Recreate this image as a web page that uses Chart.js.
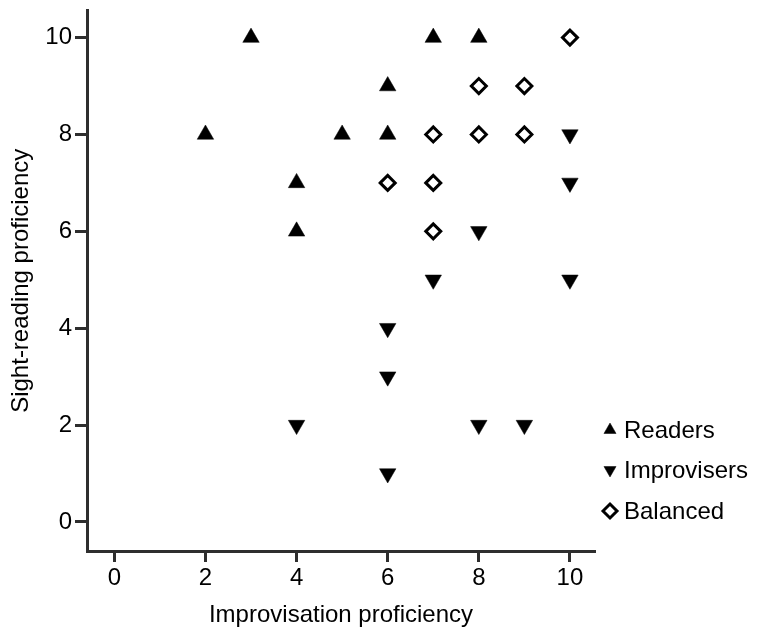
<!DOCTYPE html>
<html>
<head>
<meta charset="utf-8">
<script src="https://cdn.jsdelivr.net/npm/chart.js@4/dist/chart.umd.min.js"></script>
<style>
  html, body { margin: 0; padding: 0; background: #fff; }
  #wrap { width: 760px; height: 640px; }
</style>
</head>
<body>
<div id="wrap"><canvas id="c" width="760" height="640"></canvas></div>
<script>
// ---- Data ----
const seriesNames = ["Readers", "Improvisers", "Balanced"];
const readersX = [2, 3, 4, 4, 5, 6, 6, 7, 8];
const readersY = [8, 10, 7, 6, 8, 9, 8, 10, 10];
const improvisersX = [4, 6, 6, 6, 7, 8, 8, 9, 10, 10, 10];
const improvisersY = [2, 4, 3, 1, 5, 6, 2, 2, 8, 7, 5];
const balancedX = [6, 7, 7, 7, 8, 8, 9, 9, 10];
const balancedY = [7, 8, 7, 6, 9, 8, 9, 8, 10];
const xTicks = [0, 2, 4, 6, 8, 10];
const yTicks = [0, 2, 4, 6, 8, 10];
const xTitle = "Improvisation proficiency";
const yTitle = "Sight-reading proficiency";

const toPts = (xs, ys) => xs.map((x, i) => ({ x: x, y: ys[i] }));

const FONT = "'Liberation Sans', Arial, sans-serif";
const AXIS = '#2e2e2e';
const TXT = '#000';

const legendPlugin = {
  id: 'customLegend',
  afterDraw(chart) {
    const ctx = chart.ctx;
    const rows = [430, 470, 511];
    chart.data.datasets.forEach((ds, i) => {
      const y = rows[i];
      const mx = 610;
      ctx.save();
      ctx.fillStyle = ds.backgroundColor;
      ctx.strokeStyle = ds.borderColor;
      ctx.lineWidth = ds.legendBorder;
      Chart.helpers.drawPoint(ctx, {
        pointStyle: ds.pointStyle,
        rotation: ds.rotation || 0,
        radius: ds.legendRadius,
        borderWidth: ds.legendBorder
      }, mx, y);
      ctx.restore();
      ctx.save();
      ctx.fillStyle = TXT;
      ctx.font = "24px " + FONT;
      ctx.textAlign = 'left';
      ctx.textBaseline = 'middle';
      ctx.fillText(ds.label, 624, y + 1);
      ctx.restore();
    });
  }
};

const yAxisFit = (scale) => { scale.width = 87; scale.paddingTop = 0; scale.paddingBottom = 0; };
const xAxisFit = (scale) => { scale.height = 89; scale.paddingLeft = 0; scale.paddingRight = 0; };

new Chart(document.getElementById('c'), {
  type: 'scatter',
  data: {
    datasets: [
      {
        label: seriesNames[0], data: toPts(readersX, readersY),
        pointStyle: 'triangle', rotation: 0, pointRadius: 9.5, pointHoverRadius: 9.5,
        backgroundColor: '#000', borderColor: '#000', borderWidth: 0.5,
        legendRadius: 7, legendBorder: 0.5
      },
      {
        label: seriesNames[1], data: toPts(improvisersX, improvisersY),
        pointStyle: 'triangle', rotation: 180, pointRadius: 9.5, pointHoverRadius: 9.5,
        backgroundColor: '#000', borderColor: '#000', borderWidth: 0.5,
        legendRadius: 7, legendBorder: 0.5
      },
      {
        label: seriesNames[2], data: toPts(balancedX, balancedY),
        pointStyle: 'rectRot', pointRadius: 7.5, pointHoverRadius: 7.5,
        backgroundColor: '#fff', borderColor: '#000', borderWidth: 3,
        legendRadius: 7, legendBorder: 3
      }
    ]
  },
  options: {
    responsive: false,
    animation: false,
    events: [],
    layout: { padding: { left: 0, top: 10, right: 165, bottom: 0 } },
    plugins: {
      legend: { display: false },
      tooltip: { enabled: false }
    },
    scales: {
      x: {
        type: 'linear',
        min: -0.6, max: 10.55,
        afterBuildTicks: (s) => { s.ticks = xTicks.map(v => ({ value: v })); },
        afterFit: xAxisFit,
        border: { display: true, color: AXIS, width: 3 },
        grid: { display: true, drawOnChartArea: false, drawTicks: true, tickLength: 11, tickWidth: 3, tickColor: AXIS },
        ticks: { color: TXT, font: { family: FONT, size: 24 }, padding: 2, maxRotation: 0 },
        title: { display: true, text: xTitle, color: TXT, font: { family: FONT, size: 24 }, padding: { top: 0, bottom: 10 } }
      },
      y: {
        type: 'linear',
        min: -0.6, max: 10.56,
        afterBuildTicks: (s) => { s.ticks = yTicks.map(v => ({ value: v })); },
        afterFit: yAxisFit,
        border: { display: true, color: AXIS, width: 3 },
        grid: { display: true, drawOnChartArea: false, drawTicks: true, tickLength: 12, tickWidth: 3, tickColor: AXIS },
        ticks: { color: TXT, font: { family: FONT, size: 24 }, padding: 3 },
        title: { display: true, text: yTitle, color: TXT, font: { family: FONT, size: 24 }, padding: { top: 7, bottom: 0 } }
      }
    }
  },
  plugins: [legendPlugin]
});
</script>
</body>
</html>
